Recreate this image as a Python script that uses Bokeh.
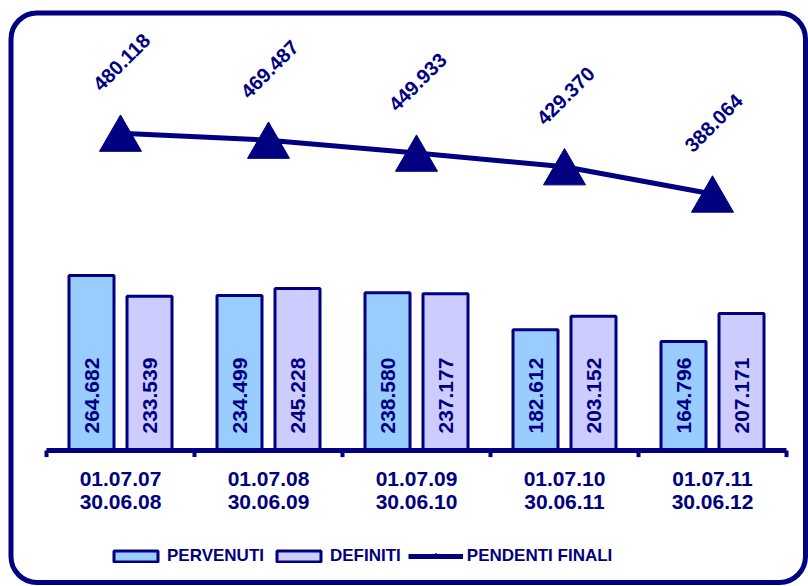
import math
from bokeh.plotting import figure
from bokeh.models import Range1d, ColumnDataSource, Legend, LegendItem, BoxAnnotation
from bokeh.transform import dodge
from bokeh.core.properties import value
from bokeh.embed import file_html
from bokeh.resources import INLINE

# ---- data (thousands, Italian notation) ----
period_start = ["01.07.07", "01.07.08", "01.07.09", "01.07.10", "01.07.11"]
period_end = ["30.06.08", "30.06.09", "30.06.10", "30.06.11", "30.06.12"]
pervenuti = [264.682, 234.499, 238.580, 182.612, 164.796]
definiti = [233.539, 245.228, 237.177, 203.152, 207.171]
pendenti = [480.118, 469.487, 449.933, 429.370, 388.064]

NAVY = "#000080"
C_PERV = "#99CCFF"
C_DEF = "#CCCCFF"
FONT_NAME = "Arial"
FONT = value(FONT_NAME)

W, H = 808, 586
# layout: category i centred at 120 + 148*i px; value 0 at 450 px, 0.661 px per unit
X0, DX = 120.0, 148.0
Y0, SY = 450.0, 0.661

def xd(px):
    return (px - X0) / DX

def yd(py):
    return (Y0 - py) / SY

idx = list(range(len(period_start)))
src = ColumnDataSource(dict(
    x=idx,
    perv=pervenuti,
    defi=definiti,
    pend=pendenti,
    perv_lbl=[f"{v:.3f}" for v in pervenuti],
    def_lbl=[f"{v:.3f}" for v in definiti],
    pend_lbl=[f"{v:.3f}" for v in pendenti],
    p_start=period_start,
    p_end=period_end,
))

p = figure(width=W, height=H, output_backend="svg", toolbar_location=None,
           x_range=Range1d(xd(0), xd(W)), y_range=Range1d(yd(H), yd(0)),
           x_axis_location=None, y_axis_location=None, min_border=0)
p.grid.visible = False
p.outline_line_color = None
p.background_fill_color = "white"
p.border_fill_color = "white"

# rounded frame
p.add_layout(BoxAnnotation(left=xd(10.5), right=xd(805), top=yd(12.5), bottom=yd(582),
                           border_radius=26, fill_alpha=0, line_color=NAVY,
                           line_alpha=1.0, line_width=5))

# bars
off = 29 / DX
bw = 45 / DX
r_perv = p.vbar(x=dodge("x", -off, range=p.x_range), top="perv", bottom=0, width=bw,
                source=src, fill_color=C_PERV, line_color=NAVY, line_width=3)
r_def = p.vbar(x=dodge("x", off, range=p.x_range), top="defi", bottom=0, width=bw,
               source=src, fill_color=C_DEF, line_color=NAVY, line_width=3)

# bar value labels (vertical)
for col, dx in (("perv_lbl", -off), ("def_lbl", off)):
    p.text(x=dodge("x", dx, range=p.x_range), y=0, text=col, source=src,
           angle=math.pi / 2, text_align="left", text_baseline="middle",
           y_offset=-17, text_font=FONT, text_font_style="bold",
           text_font_size="21px", text_color=NAVY)

# baseline axis with boundary ticks
n = len(idx)
p.segment(x0=[-0.5], y0=[0], x1=[n - 0.5], y1=[0], line_color=NAVY, line_width=5)
bounds = [i - 0.5 for i in range(n + 1)]
p.segment(x0=bounds, y0=[0] * len(bounds), x1=bounds, y1=[-10] * len(bounds),
          line_color=NAVY, line_width=4)

# category labels
p.text(x="x", y=0, text="p_start", source=src, text_align="center", text_baseline="middle",
       y_offset=28, text_font=FONT, text_font_style="bold", text_font_size="21px", text_color=NAVY)
p.text(x="x", y=0, text="p_end", source=src, text_align="center", text_baseline="middle",
       y_offset=51, text_font=FONT, text_font_style="bold", text_font_size="21px", text_color=NAVY)

# pendenti line
r_line = p.line(x="x", y="pend", source=src, line_color=NAVY, line_width=5)
tri_size = 42
tri_shift = (tri_size / 2 * math.sqrt(3) / 6) / SY
r_tri = p.scatter(x="x", y=dodge("pend", -tri_shift), source=src, marker="triangle",
                  size=tri_size, fill_color=NAVY, line_color=NAVY)
p.text(x="x", y="pend", text="pend_lbl", source=src, angle=math.pi / 4,
       text_align="center", text_baseline="middle", x_offset=1, y_offset=-71,
       text_font=FONT, text_font_style="bold", text_font_size="20px", text_color=NAVY)

# legend
legend = Legend(items=[
    LegendItem(label="PERVENUTI", renderers=[r_perv]),
    LegendItem(label="DEFINITI", renderers=[r_def]),
    LegendItem(label="PENDENTI FINALI", renderers=[r_line, r_tri]),
], orientation="horizontal", location=(108, 20), glyph_width=55, glyph_height=14,
    label_standoff=4, spacing=7, padding=0, margin=0,
    background_fill_alpha=0, border_line_alpha=0,
    label_text_font=FONT_NAME, label_text_font_style="bold",
    label_text_font_size="17px", label_text_color=NAVY)
p.add_layout(legend)

open("out.html", "w").write(file_html(p, INLINE))
